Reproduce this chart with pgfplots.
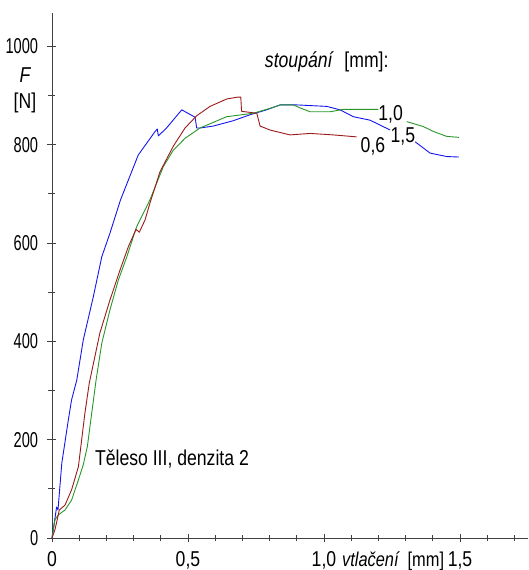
\documentclass[border=0pt]{standalone}
\usepackage{pgfplots}
\pgfplotsset{compat=1.18}
\usepackage{fontspec}
\setmainfont{Liberation Sans}[FakeStretch=0.82]
\newfontfamily\narrowdigits{Liberation Sans}[FakeStretch=0.68]

\definecolor{cBlue}{RGB}{20,20,240}
\definecolor{cRed}{RGB}{155,25,25}
\definecolor{cGreen}{RGB}{40,150,40}

\begin{document}
\fontsize{21.5bp}{25bp}\selectfont
\begin{tikzpicture}
\path[use as bounding box] (-52bp,-32bp) rectangle (477bp,538bp);
\begin{axis}[
  scale only axis,
  width=476bp, height=525bp,
  xmin=0, xmax=1.75, ymin=0, ymax=1068,
  axis x line=bottom, axis y line=left,
  axis line style={-, draw=black!75, line width=0.8pt},
  xtick={0,0.5,1,1.5},
  xticklabels={0,{0,5},{1,0},{1,5}},
  minor xtick={0.1,0.2,0.3,0.4,0.6,0.7,0.8,0.9,1.1,1.2,1.3,1.4,1.6,1.7},
  ytick={0,200,400,600,800,1000},
  minor ytick={100,300,500,700,900},
  tick align=center,
  major tick length=9bp, minor tick length=7bp,
  tick style={draw=black!75, line width=0.8pt},
  /pgf/number format/assume math mode=true,
  /pgf/number format/1000 sep={},
  xticklabel style={anchor=north, yshift=-2bp},
  yticklabel style={anchor=east, xshift=-2bp, font=\narrowdigits},
  clip=false,
  every axis plot/.append style={line width=0.9pt, line join=round},
]

% stoupání 1,5 mm
\addplot[cBlue] coordinates {
(0,0) (0.017,63) (0.022,57) (0.036,152) (0.06,240) (0.072,281) (0.091,321)
(0.115,403) (0.152,491) (0.183,572) (0.213,620) (0.252,688) (0.317,779)
(0.348,803) (0.379,827) (0.387,832) (0.391,818) (0.421,834) (0.477,871)
(0.526,856) (0.532,834) (0.544,834) (0.593,838) (0.667,849) (0.728,861)
(0.789,871) (0.838,881) (0.90,881) (1.01,878) (1.059,871) (1.108,857)
(1.169,850) (1.243,830)
};
\addplot[cBlue] coordinates {
(1.335,806) (1.39,783) (1.451,776) (1.496,775)
};

% stoupání 1,0 mm
\addplot[cGreen] coordinates {
(0,0) (0.011,37) (0.023,47) (0.048,57) (0.072,77) (0.097,118) (0.115,149)
(0.13,186) (0.146,254) (0.162,321) (0.183,396) (0.213,464) (0.244,525)
(0.275,572) (0.311,633) (0.354,681) (0.36,688) (0.409,755) (0.446,789)
(0.489,813) (0.544,834) (0.642,857) (0.74,864) (0.801,874) (0.84,881)
(0.887,881) (0.912,875) (0.949,867) (1.022,867) (1.071,872) (1.20,872)
};
\addplot[cGreen] coordinates {
(1.304,847) (1.365,837) (1.402,827) (1.451,817) (1.496,815)
};

% stoupání 0,6 mm
\addplot[cRed] coordinates {
(0,0) (0.011,17) (0.027,57) (0.048,67) (0.072,98) (0.097,145) (0.121,254)
(0.137,315) (0.176,417) (0.213,484) (0.25,545) (0.281,593) (0.309,628)
(0.321,622) (0.342,647) (0.36,681) (0.397,745) (0.446,797) (0.489,834)
(0.532,859) (0.581,878) (0.642,893) (0.685,897) (0.694,897) (0.697,868)
(0.753,864) (0.765,838) (0.801,830) (0.875,820) (0.949,823) (1.034,820)
(1.12,816)
};

% labels
\node[anchor=center] at (axis cs:1.245,861) {1,0};
\node[anchor=center] at (axis cs:1.29,816) {1,5};
\node[anchor=center] at (axis cs:1.18,796) {0,6};
\node[anchor=center] at (axis cs:1.01,968) {\itshape stoupání\hspace{0.55em}\upshape [mm]:};
\node[anchor=center] at (axis cs:0.441,161) {Těleso III, denzita 2};
\node[anchor=north, inner sep=0pt, font=\fontsize{20bp}{24bp}\selectfont] at (axis cs:1.254,0) [yshift=-13.5bp] {\itshape vtlačení\hspace{0.45em}\upshape [mm]};
\node[anchor=center] at (rel axis cs:0,0) [xshift=-27bp, yshift=463bp] {\itshape F};
\node[anchor=center] at (rel axis cs:0,0) [xshift=-27bp, yshift=435bp] {[N]};
\end{axis}
\end{tikzpicture}
\end{document}
